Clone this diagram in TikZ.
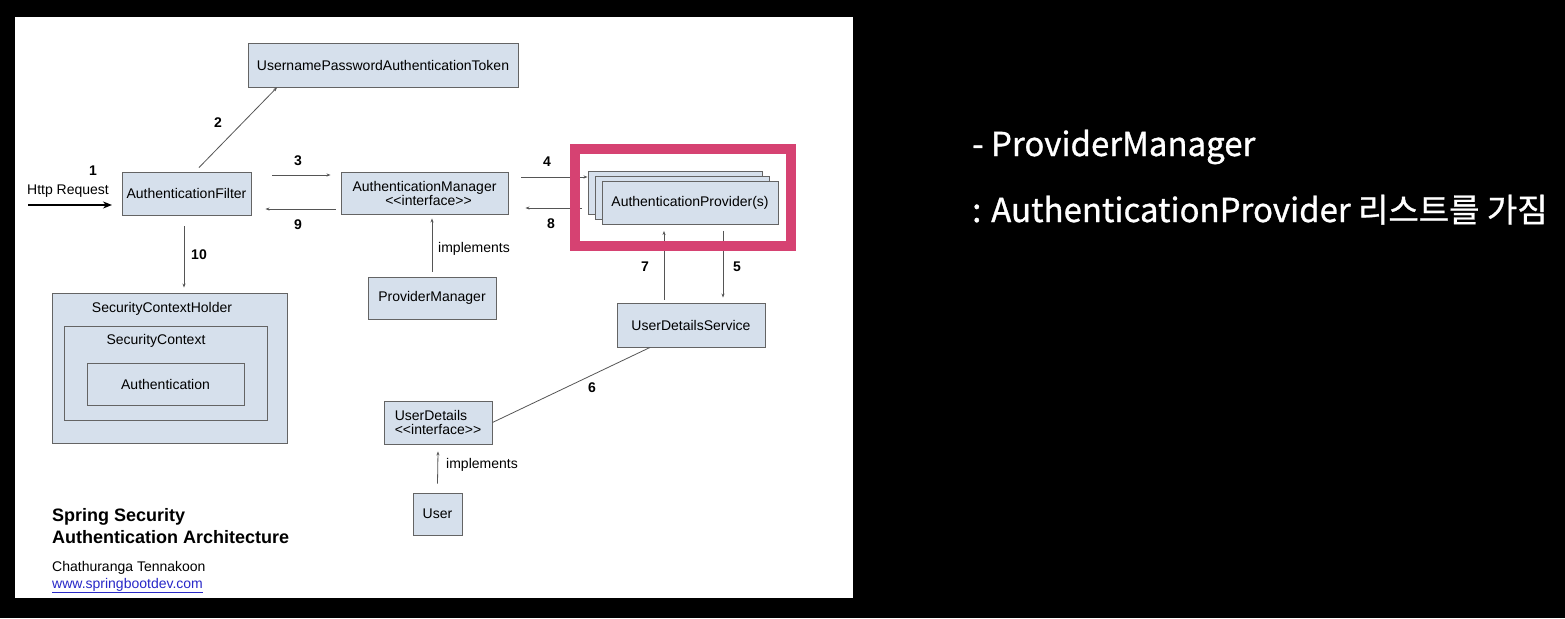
\documentclass[tikz,border=0pt]{standalone}
\usepackage{fontspec}
\setmainfont{Liberation Sans}
\newfontfamily\krfont{Noto Sans CJK KR}[FakeBold=0.9]
\usetikzlibrary{arrows.meta}
\definecolor{boxfill}{RGB}{214,224,236}
\definecolor{boxline}{RGB}{100,100,100}
\definecolor{conn}{RGB}{85,85,85}
\definecolor{hilite}{RGB}{214,66,114}
\definecolor{linkblue}{RGB}{40,40,200}
\newcommand{\ltlt}{<\kern0pt<}
\newcommand{\gtgt}{>\kern0pt>}
\tikzset{
  box/.style={draw=boxline, fill=boxfill, line width=0.9pt, inner sep=0pt, font=\fontsize{14}{16}\selectfont},
  conn/.style={draw=conn, line width=0.8pt, -{Stealth[length=4pt,width=3pt]}},
  plainconn/.style={draw=conn, line width=0.8pt},
  num/.style={font=\fontsize{14}{16}\selectfont\bfseries},
  lbl/.style={font=\fontsize{14}{16}\selectfont},
  rtext/.style={text=white, anchor=base west, inner sep=0pt, font=\krfont\fontsize{33}{38}\selectfont}
}
\begin{document}
\begin{tikzpicture}[x=1pt,y=-1pt]
\fill[black] (0,0) rectangle (1565,618);
\useasboundingbox (0,0) rectangle (1565,618);
\fill[white] (15,17) rectangle (853,598);

% boxes
\node[box, minimum width=270, minimum height=44] (upat) at (383,65) {UsernamePasswordAuthenticationToken};
\node[box, minimum width=129, minimum height=43] (af) at (186.5,193.5) {AuthenticationFilter};
\node[box, minimum width=167, minimum height=42, align=center] (am) at (424.5,193) {AuthenticationManager\\[-2pt]\hspace*{8pt}\ltlt interface\gtgt};
\node[box, minimum width=174, minimum height=43] (provB) at (675,193) {};
\node[box, minimum width=174, minimum height=43] (provM) at (682,198) {};
\node[box, minimum width=176, minimum height=43] (provF) at (690,203) {AuthenticationProvider(s)};
\node[box, minimum width=128, minimum height=42] (pm) at (432,298) {ProviderManager};
\node[box, minimum width=148, minimum height=44] (uds) at (691,325) {UserDetailsService};
\node[box, minimum width=235, minimum height=150] (sch) at (169.5,368) {};
\node[box, minimum width=203, minimum height=94] (sc) at (165.5,373) {};
\node[box, minimum width=157, minimum height=42] (auth) at (165.5,384) {Authentication};
\node[lbl] (schT) at (162,309) {SecurityContextHolder};
\node[lbl] (scT) at (156,341) {SecurityContext};
\node[box, minimum width=108, minimum height=43, align=left] (ud) at (438,422.5) {UserDetails\\[-2pt]\ltlt interface\gtgt};
\node[box, minimum width=49, minimum height=42] (user) at (437.5,514) {User};

% http request
\coordinate (httpS) at (28,205);
\coordinate (httpE) at (112,205);
\draw[line width=2pt, -{Stealth[length=9pt,width=7pt]}] (httpS) -- (httpE);
\node[lbl] (httpT) at (68,191) {Http Request};
\node[num] (n1) at (93,171) {1};

% connectors
\draw[conn] ([xshift=12.5pt,yshift=4pt]af.north) -- ([xshift=-106pt]upat.south);
\node[num] (n2) at (218,123) {2};
\draw[conn] ([xshift=21pt,yshift=18.5pt]af.east) -- ([xshift=-10pt,yshift=18pt]am.west);
\node[num] (n3) at (298,161) {3};
\draw[conn] ([xshift=-5pt,yshift=-16pt]am.west) -- ([xshift=14pt,yshift=-15.5pt]af.east);
\node[num] (n9) at (298,225) {9};
\draw[conn] ([xshift=13pt,yshift=16pt]am.east) -- ([yshift=16pt]provB.west);
\node[num] (n4) at (547,162) {4};
\draw[conn] ([xshift=-6pt,yshift=-15pt]provB.west) -- ([xshift=17pt,yshift=-15pt]am.east);
\node[num] (n8) at (551,224) {8};
\draw[conn] ([xshift=-27pt,yshift=3pt]uds.north) -- ([xshift=-26pt,yshift=-6pt]provF.south);
\node[num] (n7) at (645,267) {7};
\draw[conn] ([xshift=33pt,yshift=-6pt]provF.south) -- ([xshift=32pt,yshift=5pt]uds.north);
\node[num] (n5) at (737,267) {5};
\draw[conn] ([yshift=5pt]pm.north) -- ([xshift=7.5pt,yshift=-4pt]am.south);
\node[lbl] (impl1) at (474,249) {implements};
\draw[conn] ([xshift=-2.5pt,yshift=-11pt]af.south) -- ([xshift=14.5pt,yshift=5pt]sch.north);
\node[num] (n10) at (199,255) {10};
\draw[plainconn] ([xshift=-41pt]uds.south) -- (ud.east);
\node[num] (n6) at (592,388) {6};
\draw[conn] ([yshift=9pt]user.north) -- ([yshift=-7pt]ud.south);
\node[lbl] (impl2) at (482,465) {implements};

% highlight frame
\draw[hilite, line width=10pt] (575,149) rectangle (791,246);

% title and credits
\node[anchor=base west, inner sep=0pt, font=\fontsize{18}{21}\selectfont\bfseries] (t1) at (52,521) {Spring Security};
\node[anchor=base west, inner sep=0pt, font=\fontsize{18}{21}\selectfont\bfseries] (t2) at (52,543) {Authentication Architecture};
\node[anchor=base west, inner sep=0pt, font=\fontsize{14}{16}\selectfont] (t3) at (52,571) {Chathuranga Tennakoon};
\node[anchor=base west, inner sep=0pt, font=\fontsize{14}{16}\selectfont, text=linkblue] (t4) at (52,588) {\underline{www.springbootdev.com}};

% right text
\node[rtext] (r1) at (972,156) {- ProviderManager};
\node[rtext] (r2) at (972,222) {: AuthenticationProvider 리스트를 가짐};
\end{tikzpicture}
\end{document}
